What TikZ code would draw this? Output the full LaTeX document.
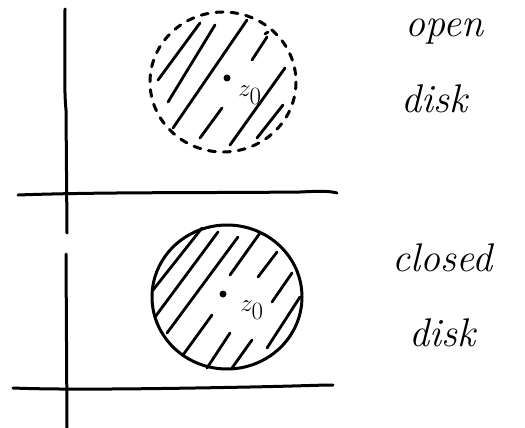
\documentclass[tikz,border=0pt]{standalone}
\usetikzlibrary{calc}
\begin{document}
\begin{tikzpicture}[x=1pt,y=-1pt,
  pen/.style={line width=3pt,line cap=round,line join=round,black},
  hatch/.style={line width=2.8pt,line cap=round,black},
  label/.style={font=\fontsize{40}{40}\selectfont\itshape,inner sep=0pt,anchor=base west},
  zlabel/.style={font=\fontsize{36}{36}\selectfont\itshape,inner sep=0pt},
  dot/.style={circle,fill=black,inner sep=0pt,minimum size=7pt}]
\useasboundingbox (0,0) rectangle (525,428);
% top axes
\draw[pen] (65,9) .. controls (65,60) and (64,90) .. (66,110) -- (67,233);
\draw[pen] (18,195) .. controls (100,192) and (200,193) .. (300,192) .. controls (320,191) and (330,191) .. (337,193);
% bottom axes
\draw[pen] (66,254) -- (67,428);
\draw[pen] (13,388) .. controls (60,390) and (150,389) .. (250,387) .. controls (300,386) and (320,385) .. (333,385);
% open disk
\draw[pen,dash pattern=on 7pt off 8pt] (223,82) ellipse [x radius=73, y radius=70];
\draw[hatch] (158,80) -- (200,23);
\draw[hatch] (168,102) -- (215,25);
\draw[hatch] (173,128) -- (247,20);
\draw[hatch] (200,138) -- (222,108);
\draw[hatch] (252,60) -- (267,37);
\draw[hatch] (265,34) -- (268,32);
\draw[hatch] (230,145) -- (285,68);
\draw[hatch] (257,138) -- (283,105);
\node[dot] (p1) at (227,78) {};
\node[zlabel] (z1) at (250,95) {$z_0$};
% closed disk
\draw[pen] (227,297) ellipse [x radius=75, y radius=72];
\draw[hatch] (153,290) -- (202,228);
\draw[hatch] (155,317) -- (218,232);
\draw[hatch] (167,333) -- (238,237);
\draw[hatch] (230,275) -- (260,233);
\draw[hatch] (258,277) -- (277,252);
\draw[hatch] (272,302) -- (292,273);
\draw[hatch] (183,355) -- (212,315);
\draw[hatch] (207,368) -- (230,333);
\draw[hatch] (232,368) -- (252,340);
\draw[hatch] (267,348) -- (300,297);
\node[dot] (p2) at (223,294) {};
\node[zlabel] (z2) at (252,310) {$z_0$};
% labels
\node[label] (t1) at (405,37) {open};
\node[label] (t2) at (401,113) {disk};
\node[label] (t3) at (392,271) {closed};
\node[label] (t4) at (409,346) {disk};
\end{tikzpicture}
\end{document}
